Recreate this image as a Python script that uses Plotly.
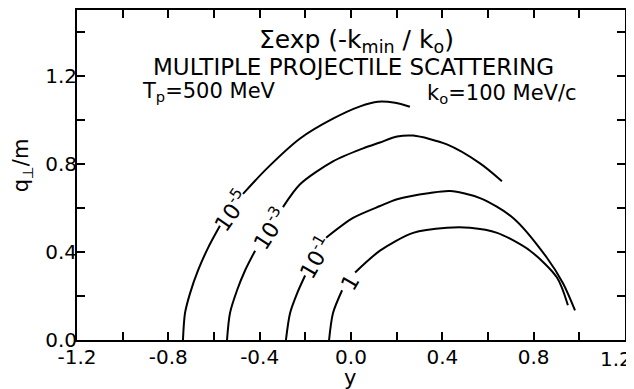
import plotly.graph_objects as go

# ---- data ----
# contour 1e-5
x_e5 = [-0.736, -0.727, -0.705, -0.670, -0.626, -0.574, None, -0.473, -0.368, -0.223, -0.079, 0.040, 0.118, 0.193, 0.258]
y_e5 = [0.000, 0.122, 0.212, 0.316, 0.419, 0.519, None, 0.664, 0.780, 0.916, 1.006, 1.062, 1.083, 1.078, 1.060]
# contour 1e-3
x_e3 = [-0.543, -0.530, -0.499, -0.464, -0.420, None, -0.298, -0.223, -0.079, 0.053, 0.127, 0.202, 0.272, 0.420, 0.565, 0.661]
y_e3 = [0.000, 0.122, 0.226, 0.316, 0.406, None, 0.604, 0.708, 0.812, 0.871, 0.898, 0.925, 0.929, 0.889, 0.803, 0.722]
# contour 1e-1
x_e1 = [-0.285, -0.267, -0.236, -0.201, None, -0.109, 0.009, 0.127, 0.202, 0.346, 0.434, 0.565, 0.710, 0.858, 0.929, 0.981]
y_e1 = [0.000, 0.122, 0.212, 0.293, None, 0.465, 0.555, 0.609, 0.640, 0.668, 0.677, 0.645, 0.555, 0.374, 0.257, 0.135]
# contour 1
x_1 = [-0.096, -0.079, -0.039, None, 0.018, 0.127, 0.272, 0.420, 0.521, 0.640, 0.784, 0.902, 0.950]
y_1 = [0.000, 0.122, 0.226, None, 0.307, 0.406, 0.487, 0.510, 0.510, 0.487, 0.406, 0.284, 0.158]

contour_labels = ["10<sup>-5</sup>", "10<sup>-3</sup>", "10<sup>-1</sup>", "1"]
label_x = [-0.526, -0.359, -0.158, -0.004]
label_y = [0.591, 0.505, 0.379, 0.262]
label_angle = [-55, -57, -60, -60]

tick_vals = [-1.2, -1.0, -0.8, -0.6, -0.4, -0.2, 0.0, 0.2, 0.4, 0.6, 0.8, 1.0, 1.2]
tick_text_x = ["-1.2", "", "-0.8", "", "-0.4", "", "0.0", "", "0.4", "", "0.8", "", "1.2"]
ytick_vals = [0.0, 0.2, 0.4, 0.6, 0.8, 1.0, 1.2, 1.4]
ytick_text = ["0.0", "", "0.4", "", "0.8", "", "1.2", ""]

FONT = "DejaVu Sans"

fig = go.Figure()
for xs, ys in [(x_e5, y_e5), (x_e3, y_e3), (x_e1, y_e1), (x_1, y_1)]:
    fig.add_trace(go.Scatter(x=xs, y=ys, mode="lines",
                             line=dict(color="black", width=2, shape="spline", smoothing=0.8),
                             connectgaps=False, showlegend=False, hoverinfo="skip"))

for t, lx, ly, a in zip(contour_labels, label_x, label_y, label_angle):
    fig.add_annotation(x=lx, y=ly, xref="x", yref="y", text=t, textangle=a, showarrow=False,
                       xanchor="center", yanchor="middle",
                       font=dict(family=FONT, size=22, color="black"))

texts = [
    dict(x=0.022, y=1.358, text="Σexp (-k<sub>min</sub> / k<sub>o</sub>)", xanchor="center", size=25),
    dict(x=0.009, y=1.243, text="MULTIPLE PROJECTILE SCATTERING", xanchor="center", size=23),
    dict(x=-0.925, y=1.128, text="T<sub>p</sub>=500 MeV", xanchor="left", size=21),
    dict(x=0.661, y=1.119, text="k<sub>o</sub>=100 MeV/c", xanchor="center", size=21),
]
for d in texts:
    fig.add_annotation(x=d["x"], y=d["y"], xref="x", yref="y", text=d["text"], showarrow=False,
                       xanchor=d["xanchor"], yanchor="middle",
                       font=dict(family=FONT, size=d["size"], color="black"))

fig.add_annotation(x=-0.1, y=0.53, xref="paper", yref="paper", text="q<sub>⊥</sub>/m",
                   textangle=-90, showarrow=False, xanchor="center", yanchor="middle",
                   font=dict(family=FONT, size=21, color="black"))
fig.add_annotation(x=0.498, y=-0.114, xref="paper", yref="paper", text="y",
                   showarrow=False, xanchor="center", yanchor="middle",
                   font=dict(family=FONT, size=21, color="black"))

# the last x tick label sits at the window edge in the reference: draw it right-aligned there
shown_ticktext_x = tick_text_x[:-1] + [""]
fig.add_annotation(x=1.0, y=0, xref="paper", yref="paper", text=tick_text_x[-1], showarrow=False,
                   xanchor="right", yanchor="top", xshift=9, yshift=-5,
                   font=dict(family=FONT, size=20, color="black"))

axis_common = dict(showgrid=False, zeroline=False, showline=True, linecolor="black", linewidth=2,
                   ticks="inside", ticklen=8, tickwidth=2, tickcolor="black", mirror="ticks",
                   automargin=False,
                   tickfont=dict(family=FONT, size=20, color="black"))
fig.update_xaxes(range=[-1.2, 1.2], tickmode="array", tickvals=tick_vals, ticktext=shown_ticktext_x,
                 ticklabelstandoff=-2, **axis_common)
fig.update_yaxes(range=[0, 1.5], tickmode="array", tickvals=ytick_vals, ticktext=ytick_text,
                 ticklabelstandoff=-6, **axis_common)

# the page body adds an 8px offset; margins compensate so the plot lands where the reference has it
fig.update_layout(width=634, height=389, margin=dict(l=69, r=17, t=2, b=57, autoexpand=False),
                  plot_bgcolor="white", paper_bgcolor="white")
fig.write_html("out.html")
